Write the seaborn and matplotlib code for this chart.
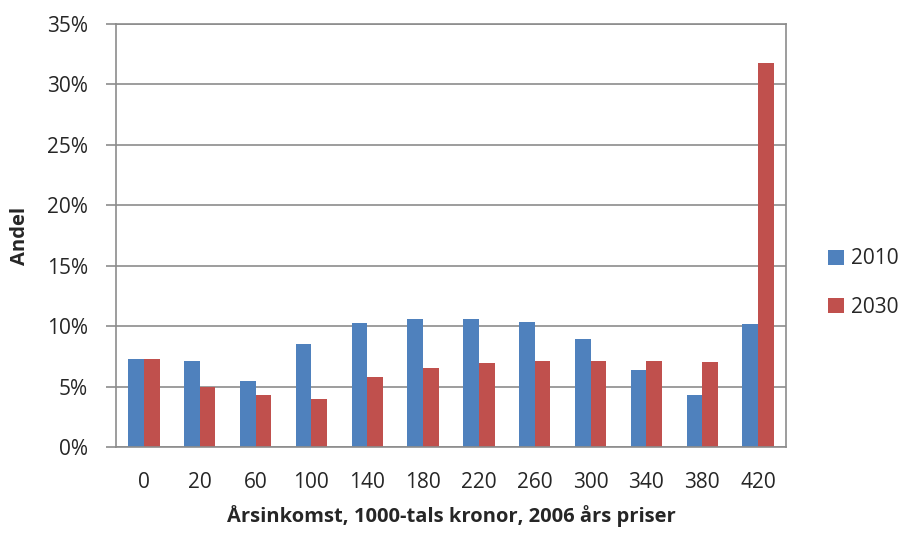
import matplotlib
matplotlib.use("Agg")
import matplotlib.pyplot as plt
import seaborn as sns
import pandas as pd
from matplotlib.ticker import PercentFormatter

categories = ["0", "20", "60", "100", "140", "180", "220", "260", "300", "340", "380", "420"]
share_2010 = [7.25, 7.15, 5.45, 8.55, 10.25, 10.55, 10.55, 10.35, 8.95, 6.4, 4.3, 10.15]
share_2030 = [7.25, 4.95, 4.3, 3.95, 5.8, 6.5, 6.95, 7.15, 7.15, 7.15, 7.05, 31.75]
series = ["2010", "2030"]
colors = ["#4F81BD", "#C0504D"]

df = pd.DataFrame({
    "kat": categories * 2,
    "serie": [series[0]] * len(categories) + [series[1]] * len(categories),
    "andel": share_2010 + share_2030,
})

sns.set_theme(style="white")
plt.rcParams["font.family"] = ["Open Sans", "DejaVu Sans"]

fig = plt.figure(figsize=(9.07, 5.34), dpi=100)
ax = fig.add_axes([116/907, 1 - 447/534, (786-116)/907, (447-24)/534])

sns.barplot(data=df, x="kat", y="andel", hue="serie", order=categories,
            hue_order=series, palette=colors, width=0.56, saturation=1,
            linewidth=0, edgecolor="none", ax=ax, legend=True)

ax.set_ylim(0, 35)
ax.set_yticks(range(0, 36, 5))
ax.yaxis.set_major_formatter(PercentFormatter(decimals=0))
ax.set_xlim(-0.5, len(categories) - 0.5)
ax.yaxis.grid(True, color="#8C8C8C", linewidth=1.2)
ax.set_axisbelow(True)
for s in ax.spines.values():
    s.set_color("#8C8C8C")
    s.set_linewidth(1.2)
ax.tick_params(axis="y", left=True, length=7, width=1.2, color="#8C8C8C",
               labelsize=15, pad=13, labelcolor="#262626")
ax.tick_params(axis="x", bottom=False, labelsize=15, pad=12, labelcolor="#262626")
ax.set_xlabel("Årsinkomst, 1000-tals kronor, 2006 års priser", fontsize=14.5,
              fontweight="bold", labelpad=9, color="#262626")
ax.set_ylabel("Andel", fontsize=14.5, fontweight="bold", labelpad=12, color="#262626")

handles, labels = ax.get_legend_handles_labels()
ax.get_legend().remove()
fig.legend(handles, labels, loc="center left", bbox_to_anchor=(828/907, 1 - 283/534),
           frameon=False, fontsize=15, handlelength=0.75, handleheight=0.75,
           handletextpad=0.35, labelspacing=1.3, borderpad=0, borderaxespad=0,
           labelcolor="#262626")

fig.savefig("out.png", dpi=100)
